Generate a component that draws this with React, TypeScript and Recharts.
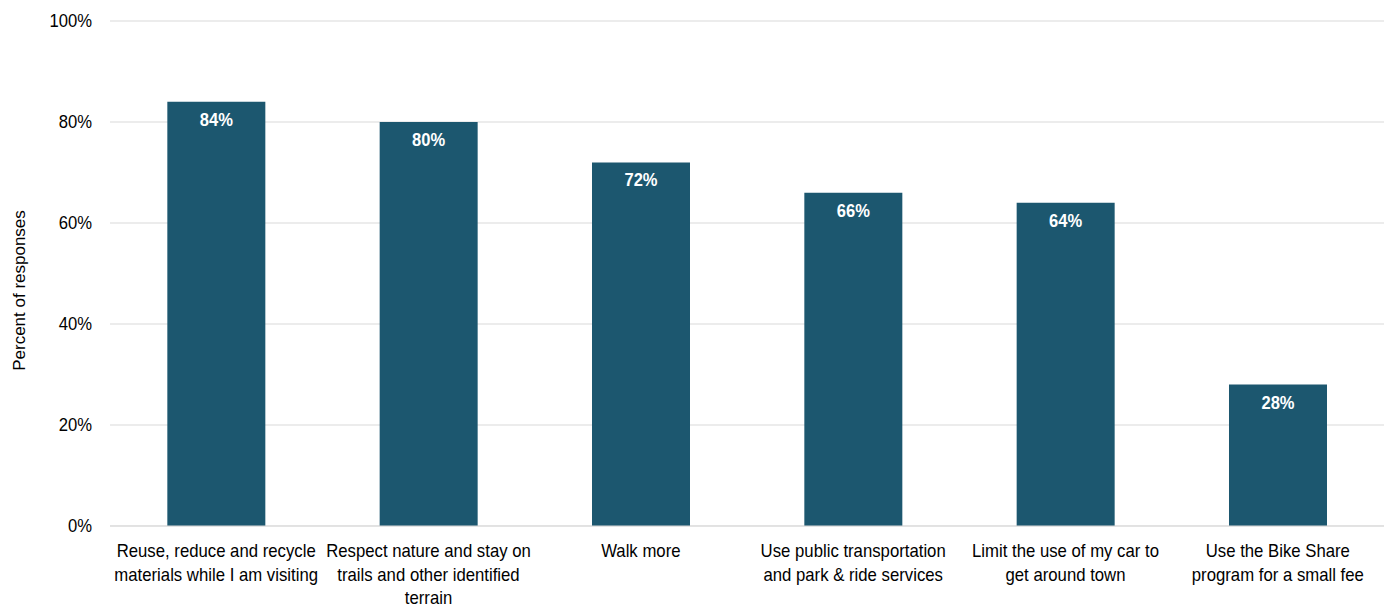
import React from "react";
import { BarChart, Bar, XAxis, YAxis, CartesianGrid, LabelList, Label } from "recharts";

const categories = [
  "Reuse, reduce and recycle\nmaterials while I am visiting",
  "Respect nature and stay on\ntrails and other identified\nterrain",
  "Walk more",
  "Use public transportation\nand park & ride services",
  "Limit the use of my car to\nget around town",
  "Use the Bike Share\nprogram for a small fee",
];
const values = [84, 80, 72, 66, 64, 28];
const yTicks = [0, 20, 40, 60, 80, 100];

const data = categories.map((c, i) => ({ name: c, value: values[i] }));

const FONT = "'Liberation Sans', Arial, sans-serif";

const XTick = (props: any) => {
  const { x, y, payload } = props;
  const lines = String(payload.value).split("\n");
  return (
    <g transform={`translate(${x},${y}) scale(0.93,1)`}>
      <text textAnchor="middle" fontFamily={FONT} fontSize={18} fill="#000">
        {lines.map((l, i) => (
          <tspan key={i} x={0} y={23.5 + i * 23.5}>
            {l}
          </tspan>
        ))}
      </text>
    </g>
  );
};

const YTick = (props: any) => {
  const { x, y, payload } = props;
  return (
    <g transform={`translate(${x - 2},${y}) scale(0.9,1)`}>
      <text textAnchor="end" dominantBaseline="central" fontFamily={FONT} fontSize={18.5} fill="#000">
        {`${payload.value}%`}
      </text>
    </g>
  );
};

const BarLabel = (props: any) => {
  const { x, y, width, value } = props;
  return (
    <g transform={`translate(${x + width / 2},${y + 24}) scale(0.92,1)`}>
      <text textAnchor="middle" fontFamily={FONT} fontSize={18} fontWeight="bold" fill="#ffffff">
        {`${value}%`}
      </text>
    </g>
  );
};

export default function App() {
  return (
    <BarChart
      width={1385}
      height={598}
      data={data}
      margin={{ top: 13, right: 9, bottom: 10, left: 12 }}
      barCategoryGap="27%"
    >
      <CartesianGrid vertical={false} stroke="#d9d9d9" />
      <XAxis
        dataKey="name"
        tick={<XTick />}
        tickLine={false}
        axisLine={{ stroke: "#d9d9d9" }}
        interval={0}
        height={70}
      />
      <YAxis
        domain={[0, 100]}
        ticks={yTicks}
        tick={<YTick />}
        tickLine={false}
        axisLine={false}
        width={90}
        tickMargin={10}
      >
        <Label
          value="Percent of responses"
          angle={-90}
          position="insideLeft"
          offset={0}
          dy={17}
          dx={-1}
          style={{ fontFamily: FONT, fontSize: 17, fill: "#000", textAnchor: "middle" }}
        />
      </YAxis>
      <Bar dataKey="value" fill="#1c576f" isAnimationActive={false}>
        <LabelList dataKey="value" content={<BarLabel />} />
      </Bar>
    </BarChart>
  );
}
